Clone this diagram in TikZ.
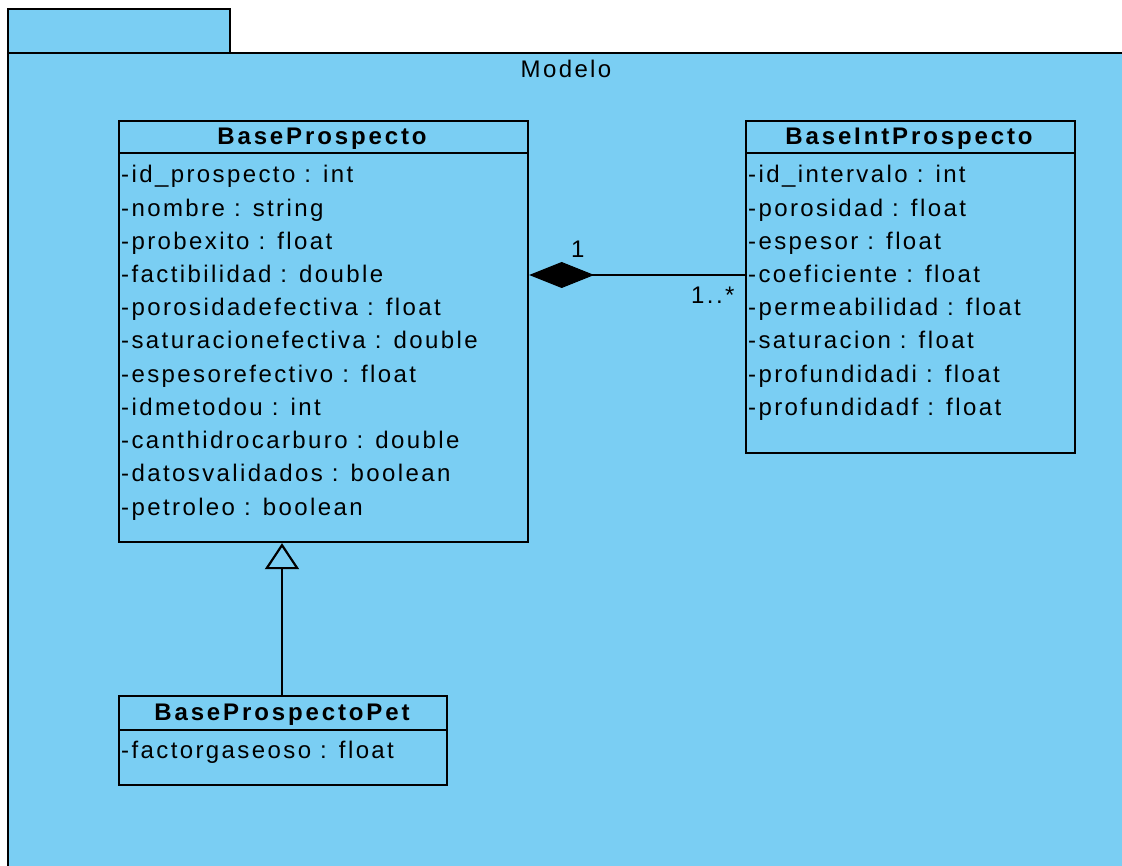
\documentclass[tikz,border=0pt]{standalone}
\usepackage{fontspec}
\usetikzlibrary{arrows.meta}
\newfontfamily\umlfont{Liberation Sans}[LetterSpace=10]
\newfontfamily\umltitlefont{Liberation Sans}[LetterSpace=12]
\definecolor{pkgblue}{RGB}{122,206,243}
\tikzset{
  pkgline/.style={draw=black, line width=2.2pt, fill=pkgblue},
  classbox/.style={draw=black, line width=2.2pt, fill=pkgblue, inner sep=0pt, anchor=north west},
  sepline/.style={draw=black, line width=2.2pt},
  umltext/.style={inner sep=0pt, font=\umlfont\fontsize{24}{28}\selectfont},
  attr/.style={umltext, anchor=base west},
  title/.style={umltext, anchor=base, font=\umltitlefont\bfseries\fontsize{24}{28}\selectfont},
  composition/.style={line width=2.2pt, {Diamond[length=65pt, width=26pt, fill=black, line width=1pt]}-},
  inherits/.style={line width=2.2pt, -{Triangle[open, length=26pt, width=34pt, line width=2.2pt]}},
}
\begin{document}
\begin{tikzpicture}[x=1pt, y=-1pt]
\useasboundingbox (0,0) rectangle (1122,866);

% package "Modelo": tab and body
\path[pkgline] (8,9) rectangle (230,53);
\path[pkgline] (8,53) rectangle (1140,890);
\node[umltext, anchor=base] (pkgname) at (566,78) {Modelo};

% class BaseProspecto
\node[classbox, minimum width=409pt, minimum height=421pt] (bp) at (118,120) {};
\draw[sepline] (bp.west |- 0,153) -- (bp.east |- 0,153);
\node[title] (bptitle) at (322,145) {BaseProspecto};
\foreach \t [count=\i] in {%
  -id\_prospecto : int,
  -nombre : string,
  -probexito : float,
  -factibilidad : double,
  -porosidadefectiva : float,
  -saturacionefectiva : double,
  -espesorefectivo : float,
  -idmetodou : int,
  -canthidrocarburo : double,
  -datosvalidados : boolean,
  -petroleo : boolean}
  \node[attr] (bpa\i) at (121,{183+33.2*(\i-1)}) {\t};

% class BaseIntProspecto
\node[classbox, minimum width=329pt, minimum height=332pt] (bip) at (745,120) {};
\draw[sepline] (bip.west |- 0,153) -- (bip.east |- 0,153);
\node[title] (biptitle) at (909,145) {BaseIntProspecto};
\foreach \t [count=\i] in {%
  -id\_intervalo : int,
  -porosidad : float,
  -espesor : float,
  -coeficiente : float,
  -permeabilidad : float,
  -saturacion : float,
  -profundidadi : float,
  -profundidadf : float}
  \node[attr] (bipa\i) at (748,{183+33.2*(\i-1)}) {\t};

% class BaseProspectoPet
\node[classbox, minimum width=328pt, minimum height=89pt] (bpp) at (118,695) {};
\draw[sepline] (bpp.west |- 0,730) -- (bpp.east |- 0,730);
\node[title] (bpptitle) at (282,720) {BaseProspectoPet};
\node[attr] (bppa1) at (121,758) {-factorgaseoso : float};

% composition BaseProspecto <>-- BaseIntProspecto
\draw[composition] (bp.east |- 0,275) -- (bip.west |- 0,275);
\node[umltext, anchor=base west] (mult1) at (571,258) {1};
\node[umltext, anchor=base west] (mult2) at (691,304) {1..*};

% generalization BaseProspectoPet --|> BaseProspecto
\draw[inherits] (bpp.north -| 282,0) -- (bp.south -| 282,0);
\end{tikzpicture}
\end{document}
